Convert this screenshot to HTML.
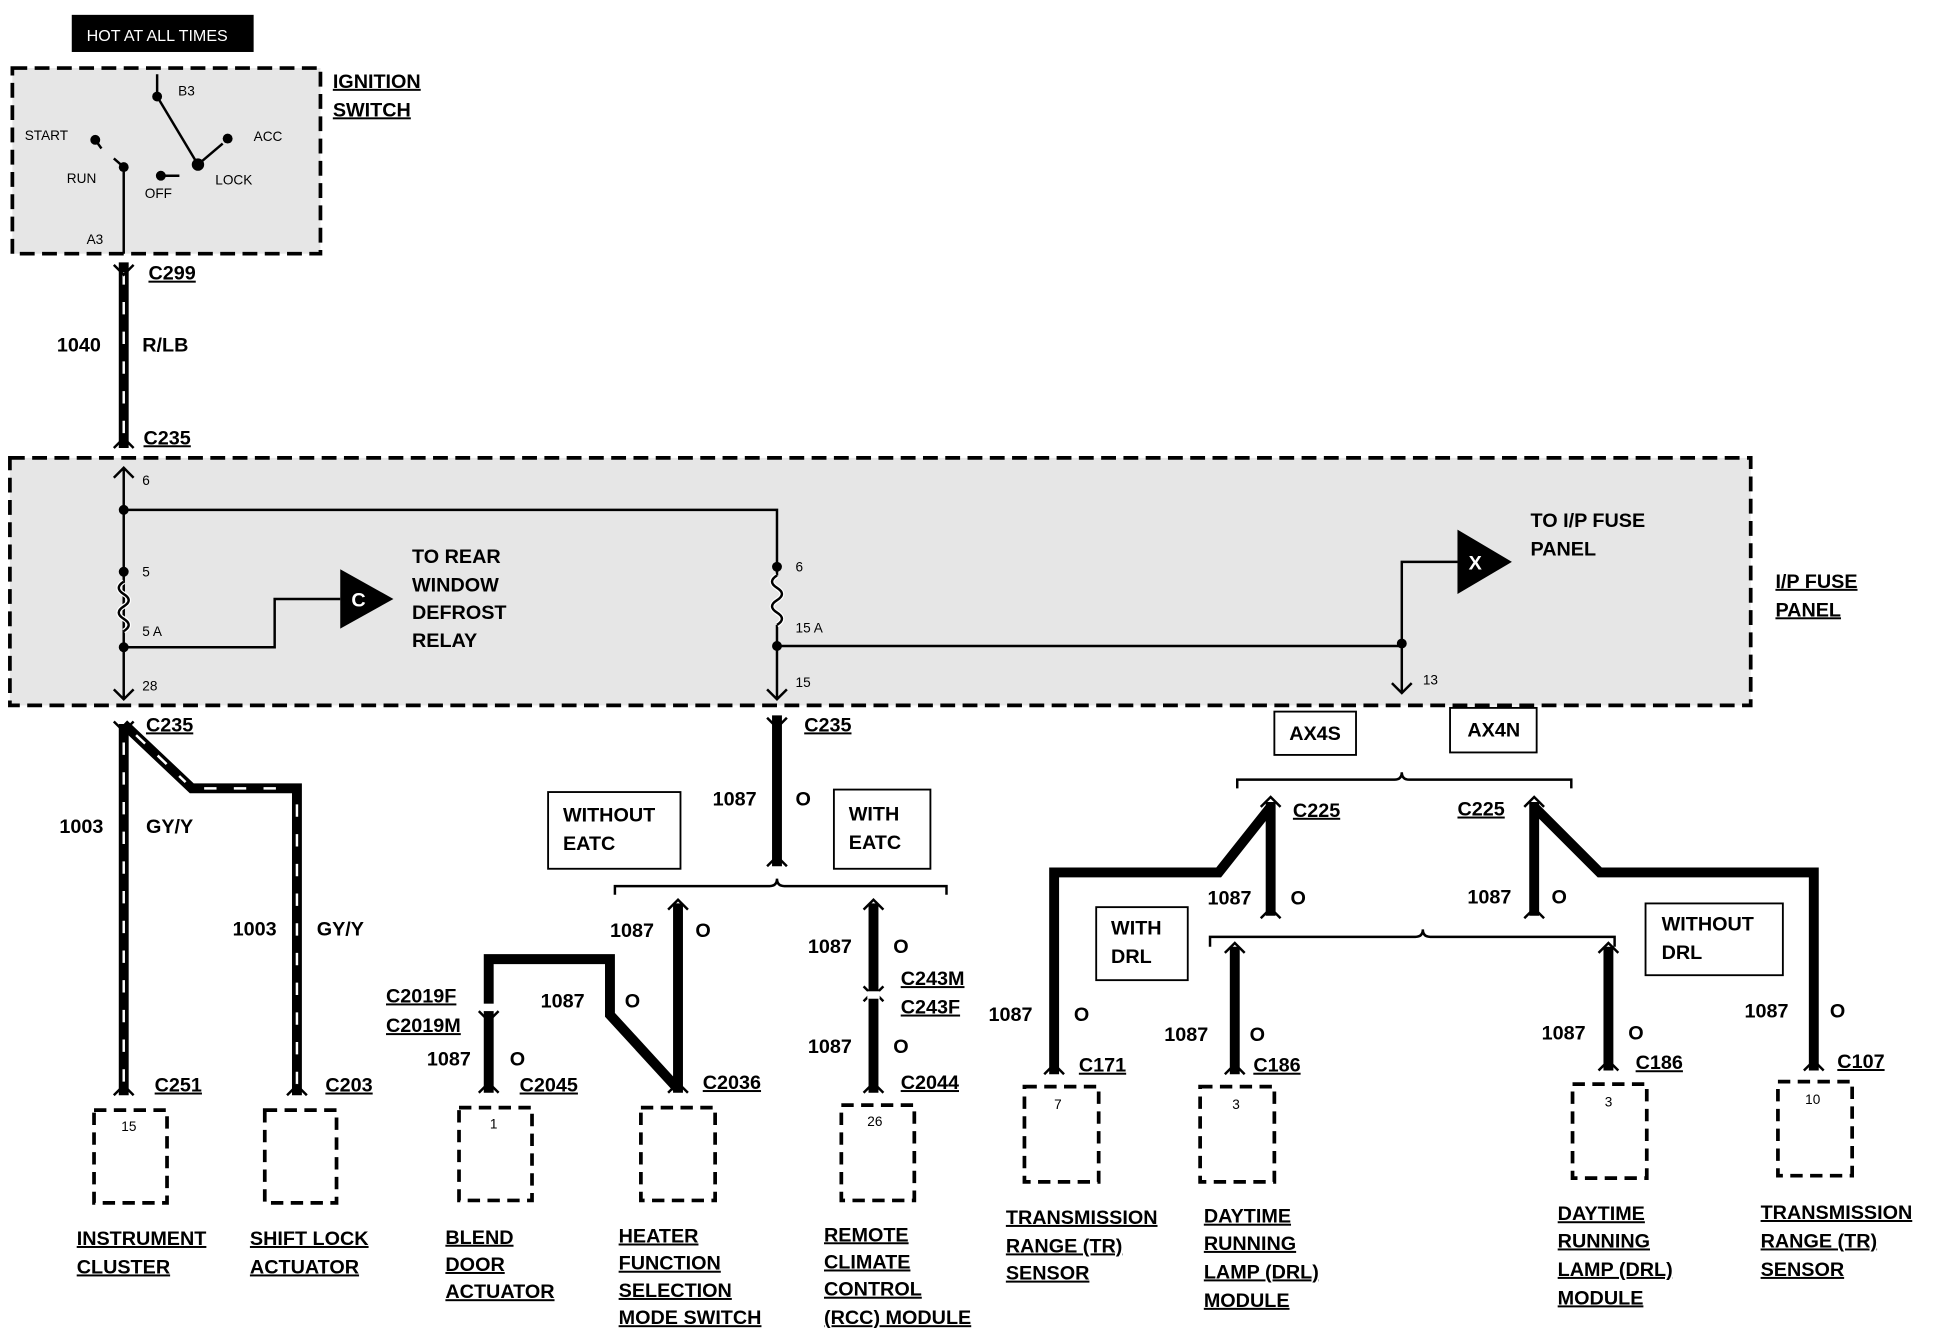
<!DOCTYPE html>
<html><head><meta charset="utf-8"><style>
html,body{margin:0;padding:0;background:#fff;width:1940px;height:1344px;overflow:hidden}
svg{display:block}
text{font-family:"Liberation Sans",sans-serif;font-weight:bold;font-size:16px;fill:#000}
.u{text-decoration:underline}
.s{font-size:11px;font-weight:normal}
.w{fill:none;stroke:#000;stroke-width:8}
.st{fill:none;stroke:#fff;stroke-width:2;stroke-dasharray:10 14}
.t{fill:none;stroke:#000;stroke-width:2}
.b{fill:#fff;stroke:#000;stroke-width:3;stroke-dasharray:10 6}
.g{fill:#e6e6e6;stroke:#000;stroke-width:3;stroke-dasharray:12 6}
.bx{fill:#fff;stroke:#000;stroke-width:1.5}
</style></head><body>
<svg width="1940" height="1344" viewBox="0 0 1568 1086" preserveAspectRatio="none">
<!-- hot at all times -->
<rect x="58" y="12" width="147" height="30" fill="#000"/>
<text x="70" y="33" style="fill:#fff;font-size:13px;font-weight:normal">HOT AT ALL TIMES</text>
<!-- ignition switch -->
<rect class="g" x="10" y="55" width="249" height="150"/>
<text class="u" x="269" y="71">IGNITION</text><text class="u" x="269" y="94">SWITCH</text>
<g class="t">
<line x1="127" y1="78" x2="160" y2="133"/><line x1="127" y1="78" x2="127" y2="60"/>
<line x1="100" y1="135" x2="100" y2="205"/>
<line x1="160" y1="133" x2="180" y2="116"/><line x1="77" y1="113" x2="82" y2="120"/>
<line x1="130" y1="142" x2="145" y2="142"/><line x1="100" y1="135" x2="92" y2="128"/>
</g>
<g fill="#000"><circle cx="127" cy="78" r="4"/><circle cx="160" cy="133" r="5"/><circle cx="77" cy="113" r="4"/><circle cx="100" cy="135" r="4"/><circle cx="130" cy="142" r="4"/><circle cx="184" cy="112" r="4"/></g>
<text class="s" x="144" y="77">B3</text><text class="s" x="20" y="113">START</text><text class="s" x="205" y="114">ACC</text>
<text class="s" x="54" y="148">RUN</text><text class="s" x="117" y="160">OFF</text><text class="s" x="174" y="149">LOCK</text><text class="s" x="70" y="197">A3</text>
<!-- 1040 -->
<path class="w" d="M100 212V362"/><path class="st" d="M100 220V355"/>
<path class="t" d="M92 214l8 8 8-8M92 362l8-8 8 8"/>
<text class="u" x="120" y="226">C299</text><text x="46" y="284">1040</text><text x="115" y="284">R/LB</text><text class="u" x="116" y="359">C235</text>
<!-- fuse panel -->
<rect class="g" x="8" y="370" width="1407" height="200"/>
<text class="u" x="1435" y="475">I/P FUSE</text><text class="u" x="1435" y="498">PANEL</text>
<g class="t">
<path d="M100 378V565M92 386l8-8 8 8M92 557l8 8 8-8"/>
<path d="M100 412H628V465M628 505V565M620 557l8 8 8-8"/>
<path d="M100 523H222V484H275"/>
<path d="M628 522H1133V560M1125 552l8 8 8-8M1133 520V454H1178"/>
</g>
<path d="M100 470q-8 5 0 10q8 5 0 10q-8 5 0 10q8 5 0 10" fill="none" stroke="#fff" stroke-width="4"/>
<path d="M100 470q-8 5 0 10q8 5 0 10q-8 5 0 10q8 5 0 10" class="t"/>
<path d="M628 465q-8 5 0 10q8 5 0 10q-8 5 0 10q8 5 0 10" fill="none" stroke="#fff" stroke-width="4"/>
<path d="M628 465q-8 5 0 10q8 5 0 10q-8 5 0 10q8 5 0 10" class="t"/>
<g fill="#000"><circle cx="100" cy="412" r="4"/><circle cx="100" cy="462" r="4"/><circle cx="100" cy="523" r="4"/><circle cx="628" cy="458" r="4"/><circle cx="628" cy="522" r="4"/><circle cx="1133" cy="520" r="4"/></g>
<text class="s" x="115" y="392">6</text><text class="s" x="115" y="466">5</text><text class="s" x="115" y="514">5 A</text><text class="s" x="115" y="558">28</text>
<text class="s" x="643" y="462">6</text><text class="s" x="643" y="511">15 A</text><text class="s" x="643" y="555">15</text><text class="s" x="1150" y="553">13</text>
<polygon points="275,460 318,484 275,508" fill="#000"/><text x="284" y="490" style="fill:#fff">C</text>
<text x="333" y="455">TO REAR</text><text x="333" y="478">WINDOW</text><text x="333" y="500">DEFROST</text><text x="333" y="523">RELAY</text>
<polygon points="1178,428 1222,454 1178,480" fill="#000"/><text x="1187" y="460" style="fill:#fff">X</text>
<text x="1237" y="426">TO I/P FUSE</text><text x="1237" y="449">PANEL</text>
<!-- 1003 -->
<path class="w" d="M100 585V885M100 585L155 637H240V885"/>
<path class="st" d="M100 600V880M110 594L150 632M165 637H232M240 650V880"/>
<path class="t" d="M92 583l8 8 8-8M92 885l8-8 8 8M232 885l8-8 8 8"/>
<text class="u" x="118" y="591">C235</text>
<text x="48" y="673">1003</text><text x="118" y="673">GY/Y</text><text x="188" y="756">1003</text><text x="256" y="756">GY/Y</text>
<text class="u" x="125" y="882">C251</text><text class="u" x="263" y="882">C203</text>
<rect class="b" x="76" y="897" width="59" height="75"/><text class="s" x="98" y="914">15</text>
<rect class="b" x="214" y="897" width="58" height="75"/>
<text class="u" x="62" y="1006">INSTRUMENT</text><text class="u" x="62" y="1029">CLUSTER</text>
<text class="u" x="202" y="1006">SHIFT LOCK</text><text class="u" x="202" y="1029">ACTUATOR</text>
<!-- center -->
<path class="w" d="M628 578V700"/><path class="t" d="M620 580l8 8 8-8M620 700l8-8 8 8"/>
<text class="u" x="650" y="591">C235</text><text x="576" y="651">1087</text><text x="643" y="651">O</text>
<rect class="bx" x="443" y="640" width="107" height="62"/><text x="455" y="664">WITHOUT</text><text x="455" y="687">EATC</text>
<rect class="bx" x="674" y="638" width="78" height="64"/><text x="686" y="663">WITH</text><text x="686" y="686">EATC</text>
<path class="t" d="M497 723V716H622q6 0 6-6q0 6 6 6H765V723" stroke-width="3"/>
<path class="w" d="M548 730V883M395 883V775H493V820L548 880M706 730V883"/>
<path class="t" d="M540 735l8-8 8 8M540 883l8-8 8 8M698 735l8-8 8 8M698 883l8-8 8 8M387 883l8-8 8 8M387 817l8 8 8-8M698 797l8 8 8-8M698 809l8-8 8 8"/>
<rect x="390" y="811" width="10" height="6" fill="#fff"/><rect x="701" y="801" width="10" height="6" fill="#fff"/>
<text x="493" y="757">1087</text><text x="562" y="757">O</text><text x="437" y="814">1087</text><text x="505" y="814">O</text>
<text class="u" x="312" y="810">C2019F</text><text class="u" x="312" y="834">C2019M</text><text x="345" y="861">1087</text><text x="412" y="861">O</text>
<text class="u" x="420" y="882">C2045</text><text class="u" x="568" y="880">C2036</text>
<text x="653" y="770">1087</text><text x="722" y="770">O</text><text class="u" x="728" y="796">C243M</text><text class="u" x="728" y="819">C243F</text>
<text x="653" y="851">1087</text><text x="722" y="851">O</text><text class="u" x="728" y="880">C2044</text>
<rect class="b" x="371" y="895" width="59" height="75"/><text class="s" x="396" y="912">1</text>
<rect class="b" x="518" y="895" width="60" height="75"/>
<rect class="b" x="680" y="893" width="59" height="77"/><text class="s" x="701" y="910">26</text>
<text class="u" x="360" y="1005">BLEND</text><text class="u" x="360" y="1027">DOOR</text><text class="u" x="360" y="1049">ACTUATOR</text>
<text class="u" x="500" y="1004">HEATER</text><text class="u" x="500" y="1026">FUNCTION</text><text class="u" x="500" y="1048">SELECTION</text><text class="u" x="500" y="1070">MODE SWITCH</text>
<text class="u" x="666" y="1003">REMOTE</text><text class="u" x="666" y="1025">CLIMATE</text><text class="u" x="666" y="1047">CONTROL</text><text class="u" x="666" y="1070">(RCC) MODULE</text>
<!-- right -->
<rect class="bx" x="1030" y="575" width="66" height="35"/><text x="1042" y="598">AX4S</text>
<rect class="bx" x="1172" y="572" width="70" height="36"/><text x="1186" y="595">AX4N</text>
<path class="t" d="M1000 637V630H1127q6 0 6-6q0 6 6 6H1270V637" stroke-width="3"/>
<path class="w" d="M1027 648V740M1027 652L985 705H852V868M1240 648V740M1240 652L1293 705H1466V865M998 765V868M1300 765V865"/>
<path class="t" d="M1019 652l8-8 8 8M1019 742l8-8 8 8M1232 652l8-8 8 8M1232 742l8-8 8 8M844 868l8-8 8 8M990 770l8-8 8 8M990 868l8-8 8 8M1292 770l8-8 8 8M1292 865l8-8 8 8M1458 865l8-8 8 8"/>
<path class="t" d="M978 765V757H1144q6 0 6-6q0 6 6 6H1305V765" stroke-width="3"/>
<text class="u" x="1045" y="660">C225</text><text class="u" x="1178" y="659">C225</text>
<text x="976" y="731">1087</text><text x="1043" y="731">O</text><text x="1186" y="730">1087</text><text x="1254" y="730">O</text>
<rect class="bx" x="886" y="733" width="74" height="59"/><text x="898" y="755">WITH</text><text x="898" y="778">DRL</text>
<rect class="bx" x="1330" y="730" width="111" height="58"/><text x="1343" y="752">WITHOUT</text><text x="1343" y="775">DRL</text>
<text x="799" y="825">1087</text><text x="868" y="825">O</text><text x="941" y="841">1087</text><text x="1010" y="841">O</text>
<text x="1246" y="840">1087</text><text x="1316" y="840">O</text><text x="1410" y="822">1087</text><text x="1479" y="822">O</text>
<text class="u" x="872" y="866">C171</text><text class="u" x="1013" y="866">C186</text><text class="u" x="1322" y="864">C186</text><text class="u" x="1485" y="863">C107</text>
<rect class="b" x="828" y="878" width="60" height="77"/><text class="s" x="852" y="896">7</text>
<rect class="b" x="970" y="878" width="60" height="77"/><text class="s" x="996" y="896">3</text>
<rect class="b" x="1271" y="876" width="60" height="76"/><text class="s" x="1297" y="894">3</text>
<rect class="b" x="1437" y="874" width="60" height="76"/><text class="s" x="1459" y="892">10</text>
<text class="u" x="813" y="989">TRANSMISSION</text><text class="u" x="813" y="1012">RANGE (TR)</text><text class="u" x="813" y="1034">SENSOR</text>
<text class="u" x="973" y="988">DAYTIME</text><text class="u" x="973" y="1010">RUNNING</text><text class="u" x="973" y="1033">LAMP (DRL)</text><text class="u" x="973" y="1056">MODULE</text>
<text class="u" x="1259" y="986">DAYTIME</text><text class="u" x="1259" y="1008">RUNNING</text><text class="u" x="1259" y="1031">LAMP (DRL)</text><text class="u" x="1259" y="1054">MODULE</text>
<text class="u" x="1423" y="985">TRANSMISSION</text><text class="u" x="1423" y="1008">RANGE (TR)</text><text class="u" x="1423" y="1031">SENSOR</text>
</svg>
</body></html>
